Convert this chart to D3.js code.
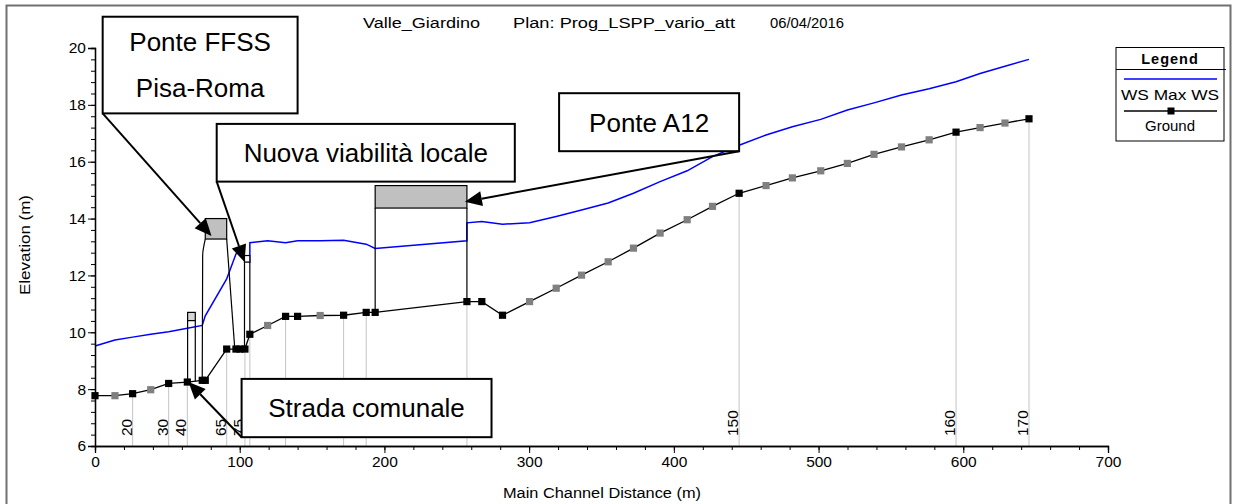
<!DOCTYPE html>
<html><head><meta charset="utf-8">
<script src="https://cdn.jsdelivr.net/npm/d3@7"></script>
<style>
body{margin:0;background:#fff;}
svg{display:block;}
text{font-family:"Liberation Sans",Arial,sans-serif;fill:#000;}
</style>
</head><body>
<svg id="c" width="1234" height="504"></svg>
<script>
// ---------- DATA ----------
const titleParts = ["Valle_Giardino", "Plan: Prog_LSPP_vario_att", "06/04/2016"];
const xTicks = [0, 100, 200, 300, 400, 500, 600, 700];
const yTicks = [6, 8, 10, 12, 14, 16, 18, 20];

// Ground profile (main channel distance m, elevation m)
const groundX = [0, 13.8, 26, 38.5, 50.9, 63.8, 74.1, 76.2, 91, 97.4, 100.2, 103.6, 107, 119.3, 131.7, 140, 155.6, 171.8, 187.4, 193.6, 257, 267.3, 281.6, 300.3, 318.7, 336.2, 354.6, 372.1, 390.5, 409.2, 426.7, 445.1, 463.7, 481.9, 501.5, 519.9, 538.3, 557.3, 576.4, 595, 611.6, 628.8, 645.4];
const groundY = [7.77, 7.77, 7.84, 7.98, 8.2, 8.25, 8.31, 8.31, 9.41, 9.41, 9.41, 9.41, 9.93, 10.24, 10.56, 10.56, 10.59, 10.6, 10.7, 10.7, 11.08, 11.08, 10.6, 11.08, 11.55, 12.01, 12.48, 12.96, 13.49, 13.96, 14.43, 14.89, 15.16, 15.43, 15.68, 15.94, 16.26, 16.52, 16.77, 17.04, 17.2, 17.36, 17.51];
const groundInterpolated = [0,1,0,1,0, 0,0,0,0,0, 0,0,0,1,0, 0,1,0,0,0, 0,0,0,1,1, 1,1,1,1,1, 1,0,1,1,1, 1,1,1,1,0, 1,1,0];

// Max water surface
const wsX = [0, 13.8, 26, 38.5, 50.9, 63.8, 74.1, 76.2, 91, 93.3, 97.4, 100.2, 103.6, 107, 107, 119.3, 131.7, 140, 155.6, 171.8, 187.4, 193.6, 257, 257, 267.3, 281.6, 300.3, 318.7, 336.2, 354.6, 372.1, 390.5, 409.2, 426.7, 445.1, 463.7, 481.9, 501.5, 519.9, 538.3, 557.3, 576.4, 595, 611.6, 628.8, 645.4];
const wsY = [9.52, 9.73, 9.83, 9.93, 10.02, 10.14, 10.24, 10.58, 11.88, 12.19, 12.75, 12.95, 12.5, 12.48, 13.15, 13.22, 13.15, 13.22, 13.22, 13.24, 13.1, 12.95, 13.22, 13.85, 13.9, 13.8, 13.85, 14.07, 14.3, 14.55, 14.89, 15.3, 15.68, 16.18, 16.58, 16.94, 17.23, 17.49, 17.82, 18.07, 18.35, 18.57, 18.81, 19.1, 19.36, 19.6];

// River station labels and vertical station lines
const stationLabelX = [26, 50.9, 63.8, 91, 103.6, 445.1, 595, 645.4];
const stationLabels = ["20", "30", "40", "65", "75", "150", "160", "170"];
const stationLineX = [26, 50.9, 63.8, 91, 103.6, 107, 131.7, 171.8, 187.4, 257, 445.1, 595, 645.4];

// Bridges (deck)
const bridgeLeft = [64.0, 76.2, 103.3, 193.6];
const bridgeRight = [69.3, 91.0, 107.0, 257.0];
const deckTop = [10.70, 14.00, 12.70, 15.16];
const deckBottom = [10.41, 13.28, 12.47, 14.37];
const deckKind = ["light", "grey", "open", "grey"];
// Bridge abutment / opening outlines (x, elevation)
const abutLines = [
  [[64.0, 10.41], [64.0, 8.25]],
  [[69.3, 10.41], [69.3, 8.28]],
  [[74.1, 8.31], [74.4, 12.7], [76.2, 13.28]],
  [[91.0, 13.28], [96.6, 9.41]],
  [[103.3, 12.47], [103.3, 9.41]],
  [[107.0, 12.47], [107.0, 9.93]],
  [[193.6, 14.37], [193.6, 10.7]],
  [[257.0, 14.37], [257.0, 11.08]]
];

// Annotations (boxes in data units)
const annTexts = [["Ponte FFSS", "Pisa-Roma"], ["Nuova viabilità locale"], ["Ponte A12"], ["Strada comunale"]];
const annX0 = [5.3, 84.1, 320.7, 101.3];
const annX1 = [140.0, 290.1, 445.1, 274.0];
const annYTop = [21.10, 17.33, 18.41, 8.36];
const annYBot = [17.70, 15.30, 16.37, 6.31];
const annFromX = [5.3, 84.1, 445.1, 101.3];
const annFromY = [17.70, 15.30, 16.37, 6.31];
const annToX = [80.5, 103.3, 255.6, 64.6];
const annToY = [13.39, 12.47, 14.59, 8.25];

const legendItems = ["WS  Max WS", "Ground"];

// ---------- CHART ----------
const svg = d3.select("#c");
const x = d3.scaleLinear().domain([0, 700]).range([95, 1108]);
const y = d3.scaleLinear().domain([6, 20]).range([446, 48]);
const FONT = '"Liberation Sans", Arial, sans-serif';

// frame
svg.append("rect").attr("x", 6.5).attr("y", 5.5).attr("width", 1224).attr("height", 502)
  .attr("fill", "#fff").attr("stroke", "#707070").attr("stroke-width", 2);

// station lines
const gElev = xv => groundY[groundX.indexOf(xv)];
svg.append("g").selectAll("line").data(stationLineX).join("line")
  .attr("x1", d => x(d)).attr("x2", d => x(d))
  .attr("y1", d => y(gElev(d))).attr("y2", y(6))
  .attr("stroke", "#c4c4c4").attr("stroke-width", 1);

// water surface
const wsData = wsX.map((v, i) => [v, wsY[i]]);
svg.append("path").datum(wsData)
  .attr("d", d3.line().x(d => x(d[0])).y(d => y(d[1])))
  .attr("fill", "none").attr("stroke", "#0000ff").attr("stroke-width", 1.5);

// bridges
const fillFor = k => k === "grey" ? "#c0c0c0" : (k === "light" ? "#d6d6d6" : "#ffffff");
svg.append("g").selectAll("rect").data(bridgeLeft).join("rect")
  .attr("x", (d, i) => x(bridgeLeft[i]))
  .attr("y", (d, i) => y(deckTop[i]))
  .attr("width", (d, i) => x(bridgeRight[i]) - x(bridgeLeft[i]))
  .attr("height", (d, i) => y(deckBottom[i]) - y(deckTop[i]))
  .attr("fill", (d, i) => fillFor(deckKind[i]))
  .attr("stroke", "#000").attr("stroke-width", 1.2);
svg.append("g").selectAll("path").data(abutLines).join("path")
  .attr("d", d3.line().x(d => x(d[0])).y(d => y(d[1])).curve(d3.curveMonotoneY))
  .attr("fill", "none").attr("stroke", "#000").attr("stroke-width", 1.2);

// ground
const gData = groundX.map((v, i) => [v, groundY[i], groundInterpolated[i]]);
svg.append("path").datum(gData)
  .attr("d", d3.line().x(d => x(d[0])).y(d => y(d[1])))
  .attr("fill", "none").attr("stroke", "#000").attr("stroke-width", 1.3);
svg.append("g").selectAll("rect").data(gData).join("rect")
  .attr("x", d => x(d[0]) - 3.6).attr("y", d => y(d[1]) - 3.6)
  .attr("width", 7.2).attr("height", 7.2)
  .attr("fill", d => d[2] ? "#808080" : "#000");

// axes
const yAxis = svg.append("g").attr("transform", "translate(95,0)")
  .call(d3.axisLeft(y).tickValues(yTicks).tickSize(7).tickPadding(2).tickFormat(d3.format("d")));
const yMinor = svg.append("g").attr("transform", "translate(95,0)")
  .call(d3.axisLeft(y).tickValues(d3.range(6, 20.01, 0.4)).tickSize(4).tickFormat(""));
const xAxis = svg.append("g").attr("transform", "translate(0,446)")
  .call(d3.axisBottom(x).tickValues(xTicks).tickSize(7).tickPadding(3).tickFormat(d3.format("d")));
const xMinor = svg.append("g").attr("transform", "translate(0,446)")
  .call(d3.axisBottom(x).tickValues(d3.range(0, 701, 20)).tickSize(4).tickFormat(""));
[yAxis, xAxis, yMinor, xMinor].forEach(g => {
  g.selectAll("path.domain").attr("stroke", "#000").attr("stroke-width", 1.3);
  g.selectAll(".tick line").attr("stroke", "#000").attr("stroke-width", 1);
  g.selectAll("text").style("font-family", FONT).style("font-size", "15.5px").attr("fill", "#000");
});

// station labels
svg.append("g").selectAll("text").data(stationLabelX).join("text")
  .attr("transform", d => `translate(${x(d) - 1},436) rotate(-90)`)
  .attr("text-anchor", "start")
  .style("font-size", "15.5px")
  .text((d, i) => stationLabels[i]);

// annotations
const ann = svg.append("g");
annTexts.forEach((lines, i) => {
  const bx0 = x(annX0[i]), bx1 = x(annX1[i]), by0 = y(annYTop[i]), by1 = y(annYBot[i]);
  ann.append("rect").attr("x", bx0).attr("y", by0).attr("width", bx1 - bx0).attr("height", by1 - by0)
    .attr("fill", "#fff").attr("stroke", "#000").attr("stroke-width", 2);
  const cx = (bx0 + bx1) / 2, cy = (by0 + by1) / 2;
  const step = 46;
  lines.forEach((t, j) => {
    const lc = cy + (j - (lines.length - 1) / 2) * step;
    ann.append("text").attr("x", cx).attr("y", lc + 9.4).attr("text-anchor", "middle")
      .style("font-size", "26px").text(t);
  });
  // arrow
  const x1 = x(annFromX[i]), y1 = y(annFromY[i]), x2 = x(annToX[i]), y2 = y(annToY[i]);
  const a = Math.atan2(y2 - y1, x2 - x1), L = 17, W = 7.5;
  const bxc = x2 - L * Math.cos(a), byc = y2 - L * Math.sin(a);
  ann.append("line").attr("x1", x1).attr("y1", y1).attr("x2", bxc).attr("y2", byc)
    .attr("stroke", "#000").attr("stroke-width", 2);
  const pts = [[x2, y2], [bxc - W * Math.sin(a), byc + W * Math.cos(a)], [bxc + W * Math.sin(a), byc - W * Math.cos(a)]];
  ann.append("path").attr("d", "M" + pts.map(p => p.join(",")).join("L") + "Z").attr("fill", "#000");
});

// title
const titleX = [363, 513, 770];
const titleLen = [117, 222, 74];
titleParts.forEach((t, i) => {
  svg.append("text").attr("x", titleX[i]).attr("y", 28).style("font-size", "15.5px")
    .attr("textLength", titleLen[i]).attr("lengthAdjust", "spacingAndGlyphs").text(t);
});

// axis titles
svg.append("text").attr("transform", "translate(30,245) rotate(-90)").attr("text-anchor", "middle")
  .style("font-size", "14px").attr("textLength", 100).attr("lengthAdjust", "spacingAndGlyphs").text("Elevation (m)");
svg.append("text").attr("x", 602).attr("y", 498).attr("text-anchor", "middle")
  .style("font-size", "14px").attr("textLength", 198).attr("lengthAdjust", "spacingAndGlyphs").text("Main Channel Distance (m)");

// legend
const lg = svg.append("g");
lg.append("rect").attr("x", 1116).attr("y", 47.5).attr("width", 108).attr("height", 93.5)
  .attr("fill", "#fff").attr("stroke", "#000").attr("stroke-width", 1);
lg.append("line").attr("x1", 1116).attr("x2", 1226).attr("y1", 69.5).attr("y2", 69.5).attr("stroke", "#000");
lg.append("text").attr("x", 1170).attr("y", 64).attr("text-anchor", "middle")
  .style("font-size", "14.5px").style("font-weight", "bold").attr("letter-spacing", "1").text("Legend");
lg.append("line").attr("x1", 1124).attr("x2", 1217).attr("y1", 79).attr("y2", 79).attr("stroke", "#0000ff").attr("stroke-width", 1.5);
lg.append("text").attr("x", 1170).attr("y", 100).attr("text-anchor", "middle").style("font-size", "15px")
  .attr("textLength", 98).attr("lengthAdjust", "spacingAndGlyphs").text(legendItems[0]);
lg.append("line").attr("x1", 1124).attr("x2", 1217).attr("y1", 111).attr("y2", 111).attr("stroke", "#000").attr("stroke-width", 1.3);
lg.append("rect").attr("x", 1167.5).attr("y", 107.5).attr("width", 7).attr("height", 7).attr("fill", "#000");
lg.append("text").attr("x", 1170).attr("y", 131).attr("text-anchor", "middle").style("font-size", "15px").text(legendItems[1]);
</script>
</body></html>
